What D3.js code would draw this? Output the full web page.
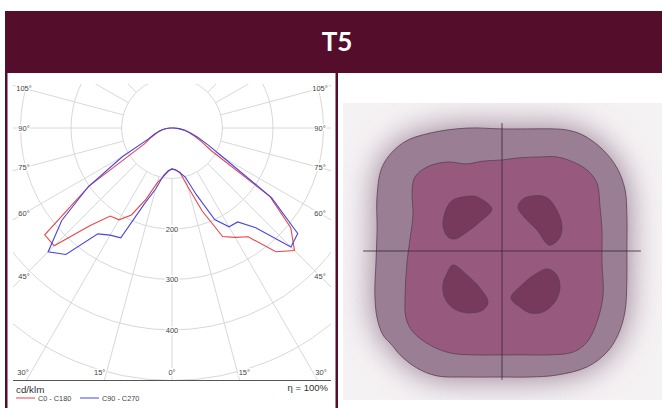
<!DOCTYPE html>
<html><head><meta charset="utf-8">
<script src="https://cdn.jsdelivr.net/npm/d3@7"></script>
<style>
html,body{margin:0;padding:0;background:#fff;}
svg{display:block;}
</style></head>
<body>
<svg id="chart" width="662" height="408"></svg>
<script>
// ---------------- data ----------------
const title = "T5";
const gammaAngles = [0,5,10,15,20,25,30,35,40,45,50,55,60,65,70,75,80,85,90,180];
// intensities in cd/klm
const c0   = [81,84,89,120,175,237,250,263,320,343,307,237,90,65,48,35,24,14,4,0];
const c180 = [81,86,98,112,150,190,210,213,252,330,329,200,63,48,35,27,19,11,3,0];
const c90  = [81,83,90,100,140,200,226,227,258,333,325,241,118,78,54,38,26,14,4,0];
const c270 = [81,85,95,125,160,240,245,256,327,347,285,202,113,52,38,28,20,11,4,0];
const radialTicks = [100,200,300,400,500];
const radialLabels = [200,300,400];
const sideAngleLabels = [45,60,75,90,105];
const bottomAngleLabels = [0,15,30];
const unitLabel = "cd/klm";
const efficiencyLabel = "\u03b7 = 100%";
const seriesNames = ["C0 - C180","C90 - C270"];

// isolux contours (metres, origin at luminaire)
const contourOuter = [[0,4.36],[0.89,4.36],[1.86,4.36],[2.32,4.32],[2.89,4.14],[3.61,3.61],[4.11,2.96],[4.39,2.21],[4.46,1.29],[4.46,0.04],[4.46,-1.04],[4.39,-2.18],[4.14,-3.0],[3.75,-3.61],[3.04,-4.14],[1.96,-4.43],[1.0,-4.5],[0,-4.5],[-1.25,-4.5],[-2.32,-4.46],[-3.04,-4.18],[-3.64,-3.71],[-3.93,-3.36],[-4.25,-3.0],[-4.46,-2.39],[-4.54,-1.57],[-4.5,-0.39],[-4.46,0.75],[-4.46,2.0],[-4.25,3.07],[-3.54,3.86],[-2.57,4.21],[-1.25,4.39]];
const contourMiddle = [[0,3.25],[0.54,3.32],[1.36,3.36],[1.96,3.36],[2.54,3.18],[3.04,2.89],[3.39,2.43],[3.5,1.57],[3.57,0.75],[3.57,-0.39],[3.61,-1.57],[3.39,-2.54],[3.04,-3.25],[2.54,-3.61],[1.71,-3.71],[0.89,-3.71],[0,-3.71],[-1.04,-3.71],[-1.86,-3.64],[-2.57,-3.36],[-3.18,-2.89],[-3.43,-2.39],[-3.46,-1.57],[-3.39,-0.39],[-3.29,0.39],[-3.18,1.29],[-3.21,2.18],[-3.11,2.64],[-2.68,3.0],[-1.96,3.18],[-1.25,3.11],[-0.68,3.21]];
const contourPeakTL = [[-2.11,1.0],[-1.96,1.57],[-1.75,1.82],[-1.14,1.96],[-0.89,1.93],[-0.36,1.5],[-0.79,1.04],[-1.25,0.68],[-1.68,0.43],[-1.93,0.5],[-2.07,0.75]];
const contourPeakTR = [[0.57,1.57],[0.75,1.86],[1.07,1.96],[1.46,1.96],[1.71,1.82],[2.07,1.21],[2.14,0.75],[2.0,0.39],[1.68,0.21],[1.25,0.75],[0.79,1.21]];
const contourPeakBL = [[-1.75,-0.5],[-1.25,-0.86],[-0.79,-1.32],[-0.5,-1.82],[-0.68,-2.11],[-1.25,-2.21],[-1.75,-2.04],[-2.04,-1.68],[-2.11,-1.21],[-1.96,-0.79]];
const contourPeakBR = [[1.64,-0.64],[1.96,-0.86],[2.07,-1.32],[1.89,-1.82],[1.46,-2.18],[1.0,-2.21],[0.64,-2.0],[0.32,-1.68],[0.71,-1.21],[1.25,-0.79]];
const crossX = [-4.96,4.96];
const crossY = [-4.6,4.57];

// ---------------- drawing ----------------
const maroon = "#540e2c";
const svg = d3.select("#chart");
const defs = svg.append("defs");
const small = "'Liberation Sans', Arial, sans-serif";

svg.append("rect").attr("x",5).attr("y",11).attr("width",657).attr("height",62).attr("fill",maroon);
svg.append("text").attr("x",337).attr("y",51).attr("text-anchor","middle")
  .attr("fill","#fff").style("font-family","Lato, sans-serif").style("font-weight",700)
  .style("font-size","26px").text(title);
svg.append("rect").attr("x",5).attr("y",72).attr("width",2.5).attr("height",336).attr("fill",maroon);
svg.append("rect").attr("x",335.5).attr("y",72).attr("width",2.5).attr("height",336).attr("fill",maroon);

// ---- polar diagram ----
const cx = 172, cy = 128;
const rScale = d3.scaleLinear().domain([0,500]).range([0,252.5]);
defs.append("clipPath").attr("id","polarClip").append("rect")
  .attr("x",13).attr("y",84).attr("width",318).attr("height",296);
const gClip = svg.append("g").attr("clip-path","url(#polarClip)");
const g = gClip.append("g").attr("transform",`translate(${cx},${cy})`);
const rad = Math.PI/180;

g.selectAll("circle.grid").data(radialTicks).join("circle")
  .attr("r",d=>rScale(d)).attr("fill","none").attr("stroke","#d8d8d8").attr("stroke-width",1);
const spokes = [];
d3.range(0,181,15).forEach(a=>{
  if (a===0 || a===180) spokes.push([a,1]);
  else { spokes.push([a,-1]); spokes.push([a,1]); }
});
g.selectAll("line.spoke").data(spokes).join("line")
  .attr("x1",d=>d[1]*Math.sin(d[0]*rad)*rScale(100))
  .attr("y1",d=>Math.cos(d[0]*rad)*rScale(100))
  .attr("x2",d=>d[1]*Math.sin(d[0]*rad)*420)
  .attr("y2",d=>Math.cos(d[0]*rad)*420)
  .attr("stroke","#d8d8d8").attr("stroke-width",1);

const radial = d3.lineRadial().angle(d=>d.angle).radius(d=>rScale(d.r));
function curvePoints(left,right){
  const pts=[];
  for(let i=gammaAngles.length-1;i>=0;i--) pts.push({angle:Math.PI+gammaAngles[i]*rad, r:left[i]});
  for(let i=1;i<gammaAngles.length;i++) pts.push({angle:Math.PI-gammaAngles[i]*rad, r:right[i]});
  return pts;
}
const seriesColors = ["#e8464b","#4646e4"];
g.append("path").attr("d",radial(curvePoints(c180,c0))).attr("fill","none")
  .attr("stroke",seriesColors[0]).attr("stroke-width",1.1);
g.append("path").attr("d",radial(curvePoints(c270,c90))).attr("fill","none")
  .attr("stroke",seriesColors[1]).attr("stroke-width",1.1);

function halo(sel){
  return sel.attr("stroke","#fff").attr("stroke-width",3).attr("paint-order","stroke")
    .attr("stroke-linejoin","round");
}
const labelG = svg.append("g").style("font-family",small).style("font-size","7.5px").attr("fill","#444");
labelG.selectAll("text.r").data(radialLabels).join("text")
  .attr("x",cx).attr("y",d=>cy+rScale(d)).attr("dy","0.35em").attr("text-anchor","middle")
  .call(halo).text(d=>d);
const sideData = [];
sideAngleLabels.forEach(a=>{ sideData.push([a,-1]); sideData.push([a,1]); });
labelG.selectAll("text.s").data(sideData).join("text")
  .attr("x",d=>cx+d[1]*148)
  .attr("y",d=> d[0]===90 ? cy : cy + 148/Math.tan(d[0]*rad))
  .attr("dy","0.35em").attr("text-anchor","middle").call(halo).text(d=>d[0]+"°");
const botData = [];
bottomAngleLabels.forEach(a=>{ if(a===0) botData.push([a,1]); else { botData.push([a,-1]); botData.push([a,1]); } });
labelG.selectAll("text.b").data(botData).join("text")
  .attr("x",d=>cx+d[1]*Math.min(149,270*Math.tan(d[0]*rad)))
  .attr("y",372).attr("dy","0.35em").attr("text-anchor","middle").call(halo).text(d=>d[0]+"°");

svg.append("line").attr("x1",13).attr("x2",331).attr("y1",380.5).attr("y2",380.5)
  .attr("stroke","#555").attr("stroke-width",1);
svg.append("text").attr("x",16).attr("y",393).style("font-family",small).style("font-size","9.8px")
  .attr("fill","#333").text(unitLabel);
svg.append("text").attr("x",328).attr("y",391).attr("text-anchor","end").style("font-family",small)
  .style("font-size","9.5px").attr("fill","#333").text(efficiencyLabel);
const legX = [16,80];
seriesNames.forEach((n,i)=>{
  svg.append("line").attr("x1",legX[i]).attr("x2",legX[i]+19).attr("y1",398).attr("y2",398)
    .attr("stroke",seriesColors[i]).attr("stroke-width",1);
  svg.append("text").attr("x",legX[i]+22).attr("y",401).style("font-family",small)
    .style("font-size","7.3px").attr("fill","#444").text(n);
});

// ---- isolux diagram ----
const xs = d3.scaleLinear().domain([-5,5]).range([362,642]);
const ys = d3.scaleLinear().domain([-5,5]).range([391,111]);
const shape = d3.line().x(d=>xs(d[0])).y(d=>ys(d[1])).curve(d3.curveCatmullRomClosed.alpha(0.5));

defs.append("clipPath").attr("id","glowClip").append("rect")
  .attr("x",343).attr("y",103).attr("width",319).attr("height",297);
const blur = defs.append("filter").attr("id","blur").attr("x","-50%").attr("y","-50%")
  .attr("width","200%").attr("height","200%");
blur.append("feGaussianBlur").attr("stdDeviation",17);
const glowG = svg.append("g").attr("clip-path","url(#glowClip)");
glowG.append("rect").attr("x",343).attr("y",103).attr("width",319).attr("height",297).attr("fill","#f5f2f4");
glowG.append("path").attr("d",shape(contourOuter)).attr("fill","#8f7389").attr("filter","url(#blur)");

const iso = svg.append("g");
const strokeC = "#5c3d55";
iso.append("path").attr("d",shape(contourOuter)).attr("fill","#9a7f94").attr("stroke",strokeC).attr("stroke-width",0.8);
iso.append("path").attr("d",shape(contourMiddle)).attr("fill","#975a7e").attr("stroke",strokeC).attr("stroke-width",0.8);
[contourPeakTL,contourPeakTR,contourPeakBL,contourPeakBR].forEach(c=>{
  iso.append("path").attr("d",shape(c)).attr("fill","#773a5d").attr("stroke",strokeC).attr("stroke-width",0.8);
});
iso.append("line").attr("x1",xs(0)).attr("x2",xs(0)).attr("y1",ys(crossY[1])).attr("y2",ys(crossY[0]))
  .attr("stroke","#3e2a3a").attr("stroke-width",1).attr("opacity",0.85);
iso.append("line").attr("x1",xs(crossX[0])).attr("x2",xs(crossX[1])).attr("y1",ys(0)).attr("y2",ys(0))
  .attr("stroke","#3e2a3a").attr("stroke-width",1).attr("opacity",0.85);
</script>
</body></html>
